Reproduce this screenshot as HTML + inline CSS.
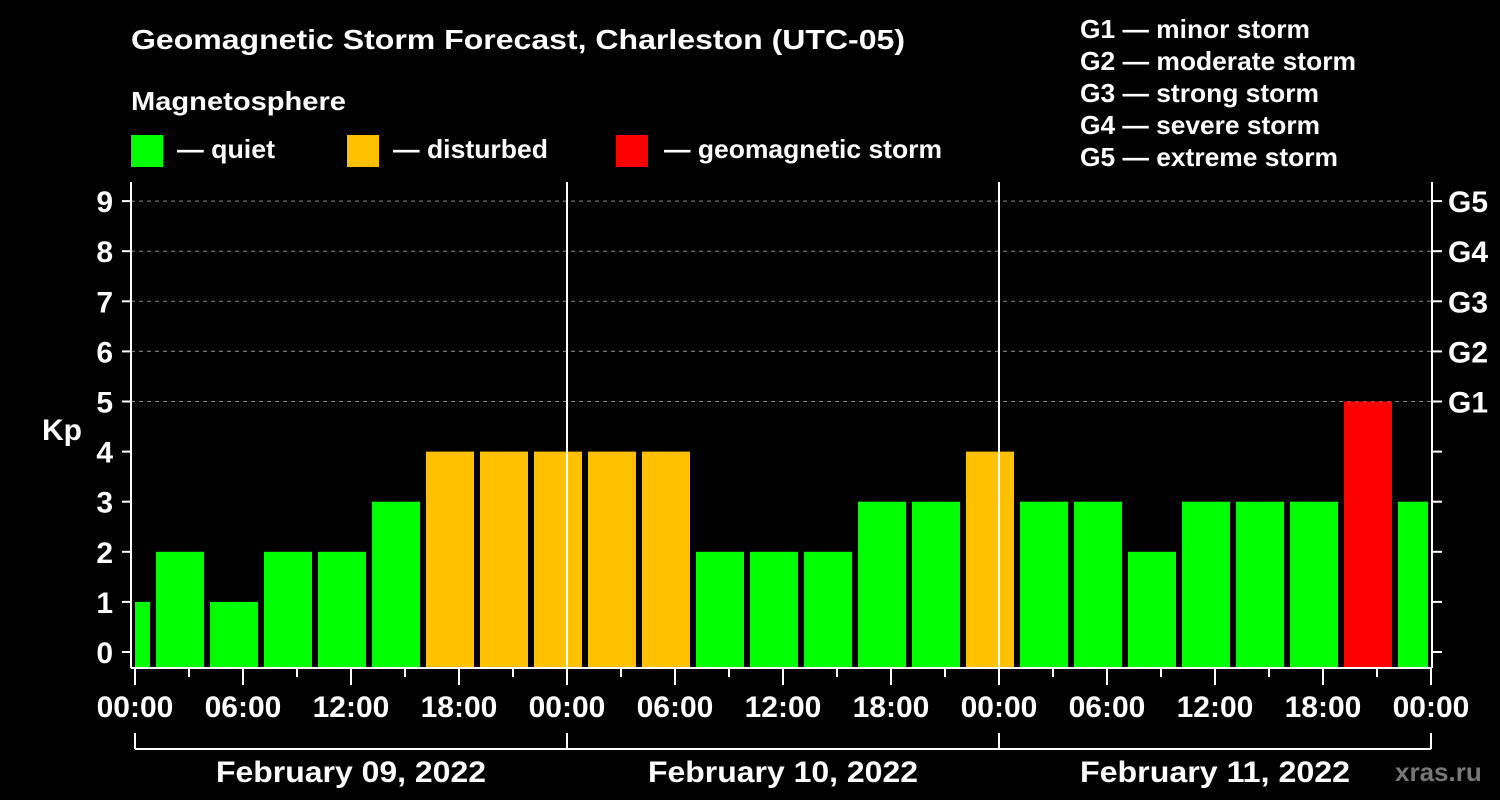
<!DOCTYPE html>
<html><head><meta charset="utf-8"><style>
body{margin:0;background:#000;}
svg{display:block;font-family:"Liberation Sans",sans-serif;font-weight:bold;}
</style></head><body>
<svg id="chart" width="1500" height="800" viewBox="0 0 1500 800">
<rect width="1500" height="800" fill="#000"/>
<text x="131" y="49" fill="#fff" font-size="28" textLength="774" lengthAdjust="spacingAndGlyphs">Geomagnetic Storm Forecast, Charleston (UTC-05)</text>
<text x="131" y="110" fill="#fff" font-size="26" textLength="215" lengthAdjust="spacingAndGlyphs">Magnetosphere</text>
<g><rect x="131" y="135" width="32" height="32" fill="#00ff00"/><text x="177" y="158" fill="#fff" font-size="26" textLength="98" lengthAdjust="spacingAndGlyphs">— quiet</text></g>
<g><rect x="347" y="135" width="32" height="32" fill="#ffc000"/><text x="393" y="158" fill="#fff" font-size="26" textLength="155" lengthAdjust="spacingAndGlyphs">— disturbed</text></g>
<g><rect x="616" y="135" width="32" height="32" fill="#ff0000"/><text x="664" y="158" fill="#fff" font-size="26" textLength="278" lengthAdjust="spacingAndGlyphs">— geomagnetic storm</text></g>
<g fill="#fff" font-size="26">
<text x="1080" y="38" textLength="230" lengthAdjust="spacingAndGlyphs">G1 — minor storm</text>
<text x="1080" y="70" textLength="276" lengthAdjust="spacingAndGlyphs">G2 — moderate storm</text>
<text x="1080" y="102" textLength="239" lengthAdjust="spacingAndGlyphs">G3 — strong storm</text>
<text x="1080" y="134" textLength="240" lengthAdjust="spacingAndGlyphs">G4 — severe storm</text>
<text x="1080" y="166" textLength="258" lengthAdjust="spacingAndGlyphs">G5 — extreme storm</text>
</g>
<text x="42" y="440" fill="#fff" font-size="30">Kp</text>
<text x="1395" y="781" fill="#777" font-size="26">xras.ru</text>
<g id="grid"></g><g id="bars"></g><g id="axes"></g>
</svg>
<script>
const kpValues=[1,2,1,2,2,3,4,4,4,4,4,2,2,2,3,3,4,3,3,2,3,3,3,5,3];
const barHours=[-0.5,2.5,5.5,8.5,11.5,14.5,17.5,20.5,23.5,26.5,29.5,32.5,35.5,38.5,41.5,44.5,47.5,50.5,53.5,56.5,59.5,62.5,65.5,68.5,71.5];
const yTicks=[0,1,2,3,4,5,6,7,8,9];
const gLabels=["G1","G2","G3","G4","G5"];
const xTickHours=[0,6,12,18,24,30,36,42,48,54,60,66,72];
const xTickLabels=["00:00","06:00","12:00","18:00","00:00","06:00","12:00","18:00","00:00","06:00","12:00","18:00","00:00"];
const dayLabels=["February 09, 2022","February 10, 2022","February 11, 2022"];
const NS="http://www.w3.org/2000/svg";
const X0=135,PXH=18,Y0=652,PXK=50.1,LEFT=131,RIGHT=1432,BOTTOM=668,TOP=182;
const x=h=>X0+h*PXH, y=k=>Y0-k*PXK;
function mk(tag,attrs,parent,text){const e=document.createElementNS(NS,tag);for(const k in attrs)e.setAttribute(k,attrs[k]);if(text!=null)e.textContent=text;document.getElementById(parent).appendChild(e);return e;}
const col=v=>v>=5?"#ff0000":v>=4?"#ffc000":"#00ff00";
yTicks.forEach(k=>{if(k>=5){const l=mk("line",{x1:LEFT,x2:RIGHT,y1:y(k),y2:y(k),stroke:"#888","stroke-dasharray":"4,4","stroke-width":1},"grid");

}});
kpValues.forEach((v,i)=>{let a=x(barHours[i])-24,b=a+48;a=Math.max(a,LEFT+4);b=Math.min(b,RIGHT-4);
const r=mk("rect",{x:a,y:y(v),width:b-a,height:BOTTOM-y(v),fill:col(v)},"bars");

});
const ax=[[LEFT,TOP,LEFT,BOTTOM],[RIGHT,TOP,RIGHT,BOTTOM],[LEFT,BOTTOM,RIGHT,BOTTOM],[x(24),TOP,x(24),BOTTOM],[x(48),TOP,x(48),BOTTOM]];
ax.forEach(c=>{mk("line",{x1:c[0],y1:c[1],x2:c[2],y2:c[3],stroke:"#fff","stroke-width":2},"axes");});
yTicks.forEach(k=>{mk("line",{x1:LEFT-9,x2:LEFT,y1:y(k),y2:y(k),stroke:"#fff","stroke-width":2},"axes");
mk("line",{x1:RIGHT,x2:RIGHT+10,y1:y(k),y2:y(k),stroke:"#fff","stroke-width":2},"axes");
const t=mk("text",{x:LEFT-18,y:y(k)+11,fill:"#fff","font-size":30,"text-anchor":"end"},"axes",k);

});
gLabels.forEach((g,i)=>{const t=mk("text",{x:1448,y:y(5+i)+11,fill:"#fff","font-size":30},"axes",g);

});
for(let h=0;h<=72;h+=3){const maj=h%6===0;mk("line",{x1:x(h),x2:x(h),y1:BOTTOM,y2:BOTTOM+(maj?17:9),stroke:"#fff","stroke-width":2},"axes");}
xTickHours.forEach((h,i)=>{const t=mk("text",{x:x(h),y:717,fill:"#fff","font-size":30,"text-anchor":"middle"},"axes",xTickLabels[i]);

});
mk("line",{x1:x(0),x2:x(72),y1:749,y2:749,stroke:"#fff","stroke-width":2},"axes");
[0,24,48,72].forEach(h=>mk("line",{x1:x(h),x2:x(h),y1:733,y2:749,stroke:"#fff","stroke-width":2},"axes"));
dayLabels.forEach((d,i)=>{const t=mk("text",{x:x(i*24+12),y:782,fill:"#fff","font-size":30,"text-anchor":"middle","textLength":270,"lengthAdjust":"spacingAndGlyphs"},"axes",d);

});
</script>
</body></html>
